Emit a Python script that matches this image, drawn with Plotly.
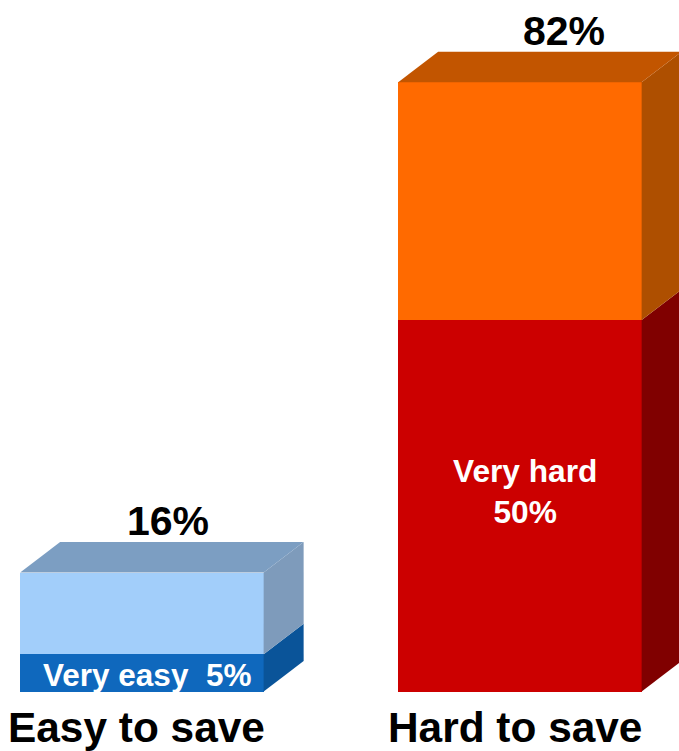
import plotly.graph_objects as go

# Data
categories = ["Easy to save", "Hard to save"]
totals = [16, 82]
inner_values = [5, 50]
inner_labels = ["Very easy  5%", "Very hard<br>50%"]
outer_values = [t - v for t, v in zip(totals, inner_values)]
total_labels = ["16%", "82%"]

# Colours
inner_front = ["#0F68BD", "#CC0000"]
outer_front = ["#A2CEFA", "#FF6A00"]
inner_side = ["#0A5499", "#800000"]
outer_side = ["#7E9BBB", "#AE4F00"]
top_face = ["#7C9EC2", "#C25500"]

W, H = 679, 751
px_per_cat = 378.0
px_per_val = 7.43
x0_px, y0_px = 141.9, 691.5
bar_w = 243.5 / px_per_cat
dx = 40 / px_per_cat
dy = 30.5 / px_per_val
xpos = [0, 1]

fig = go.Figure()
fig.add_bar(x=xpos, y=inner_values, width=bar_w, marker=dict(color=inner_front, line_width=0),
            hoverinfo="skip")
fig.add_bar(x=xpos, y=outer_values, width=bar_w, marker=dict(color=outer_front, line_width=0),
            hoverinfo="skip")


def face(xs, ys, color):
    fig.add_scatter(x=xs, y=ys, mode="lines", fill="toself", fillcolor=color,
                    line=dict(width=0, color=color), hoverinfo="skip")


for i, p in enumerate(xpos):
    l, r = p - bar_w / 2, p + bar_w / 2
    face([r, r + dx, r + dx, r, r], [0, dy, inner_values[i] + dy, inner_values[i], 0], inner_side[i])
    face([r, r + dx, r + dx, r, r],
         [inner_values[i], inner_values[i] + dy, totals[i] + dy, totals[i], inner_values[i]], outer_side[i])
    face([l, l + dx, r + dx, r, l],
         [totals[i], totals[i] + dy, totals[i] + dy, totals[i], totals[i]], top_face[i])

annotations = []
# Totals above each block
for p, t, lab, shift in zip(xpos, totals, total_labels, [26.5, 44]):
    annotations.append(dict(x=p, y=t + dy, text=lab, showarrow=False, xshift=shift, yshift=-4,
                            xanchor="center", yanchor="bottom",
                            font=dict(size=41, color="#000000")))
# Inner labels
annotations.append(dict(x=xpos[0], y=inner_values[0] / 2, text=inner_labels[0], showarrow=False,
                        xshift=5.5, yshift=-2, font=dict(size=31.5, color="#FFFFFF")))
annotations.append(dict(x=xpos[1], y=inner_values[1] / 2, text=inner_labels[1], showarrow=False,
                        xshift=5, yshift=14, font=dict(size=31.7, color="#FFFFFF")))
# Category labels
for p, c in zip(xpos, categories):
    annotations.append(dict(x=p, y=0, text=c, showarrow=False, xshift=-5, yshift=-36,
                            yanchor="middle", font=dict(size=42.4, color="#000000")))

fig.update_layout(
    width=W, height=H,
    margin=dict(l=0, r=0, t=0, b=0),
    autosize=False,
    barmode="stack",
    showlegend=False,
    paper_bgcolor="#FFFFFF",
    plot_bgcolor="#FFFFFF",
    font=dict(family="Liberation Sans", weight="bold"),
    xaxis=dict(visible=False, range=[-x0_px / px_per_cat, (W - x0_px) / px_per_cat], fixedrange=True),
    yaxis=dict(visible=False, range=[-(H - y0_px) / px_per_val, y0_px / px_per_val], fixedrange=True),
    annotations=annotations,
)
fig.write_html("out.html", config={"displayModeBar": False},
               post_script="document.body.style.margin='0';document.documentElement.style.overflow='hidden';")
